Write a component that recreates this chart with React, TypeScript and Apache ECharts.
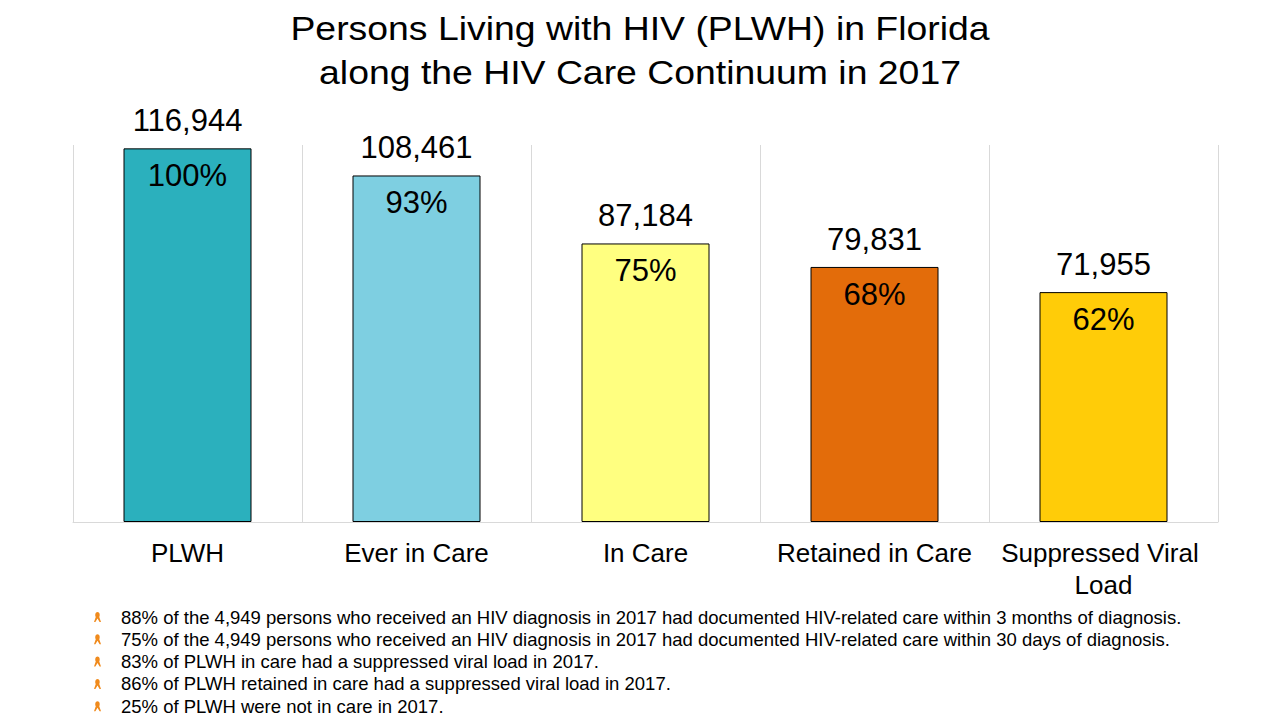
import React, { useEffect, useRef } from "react";
import * as echarts from "echarts";

const categories = ["PLWH", "Ever in Care", "In Care", "Retained in Care", "Suppressed Viral Load"];
const counts = [116944, 108461, 87184, 79831, 71955];
const percents = ["100%", "93%", "75%", "68%", "62%"];
const barColors = ["#2BB0BD", "#7ECFE1", "#FFFF80", "#E36C0A", "#FFCC08"];
const titleLines = ["Persons Living with HIV (PLWH) in Florida", "along the HIV Care Continuum in 2017"];
const notes = [
  "88% of the 4,949 persons who received an HIV diagnosis in 2017 had documented HIV-related care within 3 months of diagnosis.",
  "75% of the 4,949 persons who received an HIV diagnosis in 2017 had documented HIV-related care within 30 days of diagnosis.",
  "83% of PLWH in care had a suppressed viral load in 2017.",
  "86% of PLWH retained in care had a suppressed viral load in 2017.",
  "25% of PLWH were not in care in 2017.",
];

const FONT = "'Liberation Sans', Arial, sans-serif";

echarts.graphic.registerShape(
  "ribbon",
  echarts.graphic.extendPath(
    "M5 0 C2 0 1 3 2.5 5 L0 10 L2 10 L5 6.5 L8 10 L10 10 L7.5 5 C9 3 8 0 5 0 Z M5 1.8 C3.8 1.8 3.5 3 4 3.8 L5 5 L6 3.8 C6.5 3 6.2 1.8 5 1.8 Z",
    {}
  )
);

export default function App() {
  const ref = useRef<HTMLDivElement>(null);
  useEffect(() => {
    const chart = echarts.init(ref.current!, null, { renderer: "svg" });
    const graphics: any[] = [];
    titleLines.forEach((t, i) => {
      graphics.push({
        type: "text",
        x: 640,
        y: 28 + i * 44,
        scaleX: 1.15,
        style: {
          text: t,
          font: `32.5px ${FONT}`,
          fill: "#000",
          textAlign: "center",
          textVerticalAlign: "middle",
          verticalAlign: "middle",
        },
      });
    });
    notes.forEach((t, i) => {
      const y = 617 + i * 22.3;
      graphics.push({
        type: "ribbon",
        x: 94,
        y: y - 5,
        scaleX: 0.7,
        scaleY: 1,
        style: { fill: "#F08A1C" },
      });
      graphics.push({
        type: "text",
        x: 121,
        y: y,
        style: { text: t, font: `18.5px ${FONT}`, fill: "#000", verticalAlign: "middle" },
      });
    });
    chart.setOption({
      animation: false,
      textStyle: { fontFamily: FONT },
      grid: { left: 73, right: 62, top: 145, bottom: 198 },
      xAxis: {
        type: "category",
        data: categories,
        axisLine: { show: true, lineStyle: { color: "#D9D9D9", width: 1 } },
        axisTick: { show: false },
        splitLine: { show: true, lineStyle: { color: "#D9D9D9", width: 1 } },
        axisLabel: {
          interval: 0,
          fontSize: 26,
          color: "#000",
          margin: 15,
          width: 222,
          overflow: "break",
          lineHeight: 32,
          fontFamily: FONT,
        },
      },
      yAxis: {
        type: "value",
        min: 0,
        max: 118000,
        show: false,
        splitLine: { show: false },
      },
      series: [
        {
          type: "bar",
          barWidth: 128,
          data: counts.map((v, i) => ({ value: v, itemStyle: { color: barColors[i] } })),
          itemStyle: { borderColor: "#000", borderWidth: 1 },
          label: {
            show: true,
            position: "top",
            distance: 12,
            fontSize: 31,
            color: "#000",
            fontFamily: FONT,
            formatter: (p: any) => p.value.toLocaleString("en-US"),
          },
        },
        {
          type: "bar",
          barWidth: 128,
          barGap: "-100%",
          silent: true,
          data: counts,
          itemStyle: { color: "rgba(0,0,0,0)" },
          label: {
            show: true,
            position: "insideTop",
            distance: 12,
            fontSize: 31,
            color: "#000",
            fontFamily: FONT,
            formatter: (p: any) => percents[p.dataIndex],
          },
        },
      ],
      graphic: graphics,
    });
    return () => chart.dispose();
  }, []);
  return (
    <div
      ref={ref}
      style={{ position: "fixed", left: 0, top: 0, width: 1280, height: 720, background: "#fff" }}
    />
  );
}
